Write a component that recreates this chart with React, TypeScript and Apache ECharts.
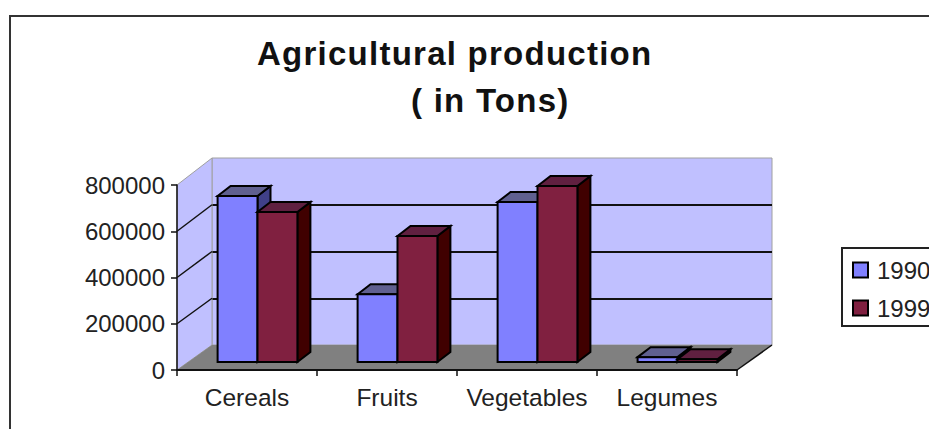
import React, { useEffect, useRef } from "react";
import * as echarts from "echarts";

const categories = ["Cereals", "Fruits", "Vegetables", "Legumes"];
const values1990 = [718000, 293000, 692000, 21000];
const values1999 = [649000, 545000, 761000, 12000];
const valueMax = 800000;
const valueStep = 200000;
const titleLine1 = "Agricultural production";
const titleLine2 = "( in Tons)";

const FONT = "Liberation Sans";
const TEXT = "#222222";

// Oblique projection of the "3D" box
const WALL_DX = 35;
const WALL_TOP_DY = 27;
const BACK_HEIGHT = 187;
const BAR_SHIFT_X = 10.5;
const BAR_SHIFT_Y = 8;
const BAR_DX = 13;
const BAR_DY = 10;
const BAR_RATIO = 0.285;

function wallsRenderItem(params: any, api: any) {
  const cs = params.coordSys;
  const left = cs.x;
  const right = cs.x + cs.width;
  const y0 = api.coord([0, 0])[1];
  const yTop = api.coord([0, valueMax])[1];
  const backTop = yTop - WALL_TOP_DY;
  const backY = (v: number) => backTop + (1 - v / valueMax) * BACK_HEIGHT;
  const children: any[] = [
    {
      type: "polygon",
      shape: { points: [[left, y0], [left, yTop], [left + WALL_DX, backTop], [left + WALL_DX, backY(0)]] },
      style: { fill: "#c0c0ff", stroke: "#a0a0a0", lineWidth: 1 },
    },
    {
      type: "polygon",
      shape: { points: [[left, y0], [right, y0], [right + WALL_DX, backY(0)], [left + WALL_DX, backY(0)]] },
      style: { fill: "#808080" },
    },
    {
      type: "line",
      shape: { x1: right, y1: y0, x2: right + WALL_DX, y2: backY(0) },
      style: { stroke: "#111111", lineWidth: 1.5 },
    },
  ];
  for (let v = valueStep; v < valueMax; v += valueStep) {
    const y = api.coord([0, v])[1];
    children.push({
      type: "line",
      shape: { x1: left, y1: y, x2: left + WALL_DX, y2: backY(v) },
      style: { stroke: "#111111", lineWidth: 1.5 },
    });
  }
  return { type: "group", children };
}

function barRenderItem(side: number, front: string, top: string, flank: string) {
  return (_params: any, api: any) => {
    const p = api.coord([api.value(0), api.value(1)]);
    const base = api.coord([api.value(0), 0]);
    const w = api.size([1, 0])[0] * BAR_RATIO;
    const cx = p[0] + BAR_SHIFT_X;
    const x0 = side < 0 ? cx - w : cx;
    const x1 = x0 + w;
    const yT = p[1] - BAR_SHIFT_Y;
    const yB = base[1] - BAR_SHIFT_Y;
    const line = { stroke: "#000000", lineWidth: 2 };
    return {
      type: "group",
      children: [
        {
          type: "polygon",
          shape: { points: [[x1, yT], [x1 + BAR_DX, yT - BAR_DY], [x1 + BAR_DX, yB - BAR_DY], [x1, yB]] },
          style: { fill: flank, ...line },
        },
        {
          type: "polygon",
          shape: { points: [[x0, yT], [x0 + BAR_DX, yT - BAR_DY], [x1 + BAR_DX, yT - BAR_DY], [x1, yT]] },
          style: { fill: top, ...line },
        },
        {
          type: "rect",
          shape: { x: x0, y: yT, width: w, height: yB - yT },
          style: { fill: front, ...line },
        },
      ],
    };
  };
}

export default function App() {
  const ref = useRef<HTMLDivElement>(null);
  useEffect(() => {
    document.body.style.margin = "0";
    const chart = echarts.init(ref.current!, undefined, { renderer: "svg" });
    const titleStyle = { fontFamily: FONT, fontSize: 33, fontWeight: "bold" as const, color: "#111111" };
    chart.setOption({
      animation: false,
      backgroundColor: "#ffffff",
      title: [
        { text: titleLine1, left: 257, top: 37, padding: 0, textStyle: titleStyle },
        { text: titleLine2, left: 411, top: 84, padding: 0, textStyle: titleStyle },
      ],
      legend: {
        orient: "vertical",
        left: 842,
        top: 248,
        data: ["1990", "1999"],
        padding: [10, 30, 6, 10],
        itemGap: 14,
        itemWidth: 15,
        itemHeight: 15,
        icon: "rect",
        borderColor: "#222222",
        borderWidth: 2,
        backgroundColor: "#ffffff",
        textStyle: { fontFamily: FONT, fontSize: 24, color: TEXT, padding: [0, 0, 0, 4] },
      },
      grid: [
        { left: 177, top: 185, width: 560, height: 185 },
        {
          left: 177 + WALL_DX,
          top: 185 - WALL_TOP_DY,
          width: 560,
          height: BACK_HEIGHT,
          show: true,
          backgroundColor: "#c0c0ff",
          borderColor: "#a0a0a0",
          borderWidth: 1,
        },
      ],
      xAxis: [
        {
          type: "category",
          gridIndex: 0,
          data: categories,
          z: 3,
          axisLine: { lineStyle: { color: "#111111", width: 2 } },
          axisTick: { show: true, length: 6, lineStyle: { color: "#111111", width: 1.5 } },
          axisLabel: { fontFamily: FONT, fontSize: 24.5, color: TEXT, margin: 15, interval: 0 },
        },
        {
          type: "category",
          gridIndex: 1,
          data: categories,
          axisLine: { show: false },
          axisTick: { show: false },
          axisLabel: { show: false },
        },
      ],
      yAxis: [
        {
          type: "value",
          gridIndex: 0,
          min: 0,
          max: valueMax,
          interval: valueStep,
          z: 3,
          splitLine: { show: false },
          axisLine: { show: true, lineStyle: { color: "#111111", width: 1.5 } },
          axisTick: { show: true, length: 6, lineStyle: { color: "#111111", width: 1.5 } },
          axisLabel: {
            fontFamily: FONT,
            fontSize: 24,
            color: TEXT,
            margin: 12,
            padding: [8, 0, 0, 0],
            formatter: (v: number) => String(v),
          },
        },
        {
          type: "value",
          gridIndex: 1,
          min: 0,
          max: valueMax,
          interval: valueStep,
          axisLine: { show: false },
          axisTick: { show: false },
          axisLabel: { show: false },
          splitLine: { show: true, showMinLine: false, showMaxLine: false, lineStyle: { color: "#111111", width: 2 } },
        },
      ],
      series: [
        {
          type: "custom",
          name: "walls",
          xAxisIndex: 0,
          yAxisIndex: 0,
          z: 1,
          silent: true,
          clip: false,
          data: [[0, 0]],
          renderItem: wallsRenderItem,
        },
        {
          type: "custom",
          name: "1990",
          xAxisIndex: 0,
          yAxisIndex: 0,
          z: 2,
          clip: false,
          itemStyle: { color: "#8080ff", borderColor: "#000000", borderWidth: 2 },
          data: categories.map((_, i) => [i, values1990[i]]),
          renderItem: barRenderItem(-1, "#8080ff", "#606090", "#404088"),
        },
        {
          type: "custom",
          name: "1999",
          xAxisIndex: 0,
          yAxisIndex: 0,
          z: 3,
          clip: false,
          itemStyle: { color: "#802040", borderColor: "#000000", borderWidth: 2 },
          data: categories.map((_, i) => [i, values1999[i]]),
          renderItem: barRenderItem(1, "#802040", "#602040", "#400000"),
        },
      ],
      graphic: [
        {
          type: "polyline",
          shape: { points: [[10, 429], [10, 16], [929, 16]] },
          style: { fill: "none", stroke: "#333333", lineWidth: 2 },
          silent: true,
        },
      ],
    });
    return () => chart.dispose();
  }, []);
  return (
    <>
      <style>{`text[style*="bold"] { letter-spacing: 1.25px; }`}</style>
      <div ref={ref} style={{ width: 929, height: 429 }} />
    </>
  );
}
